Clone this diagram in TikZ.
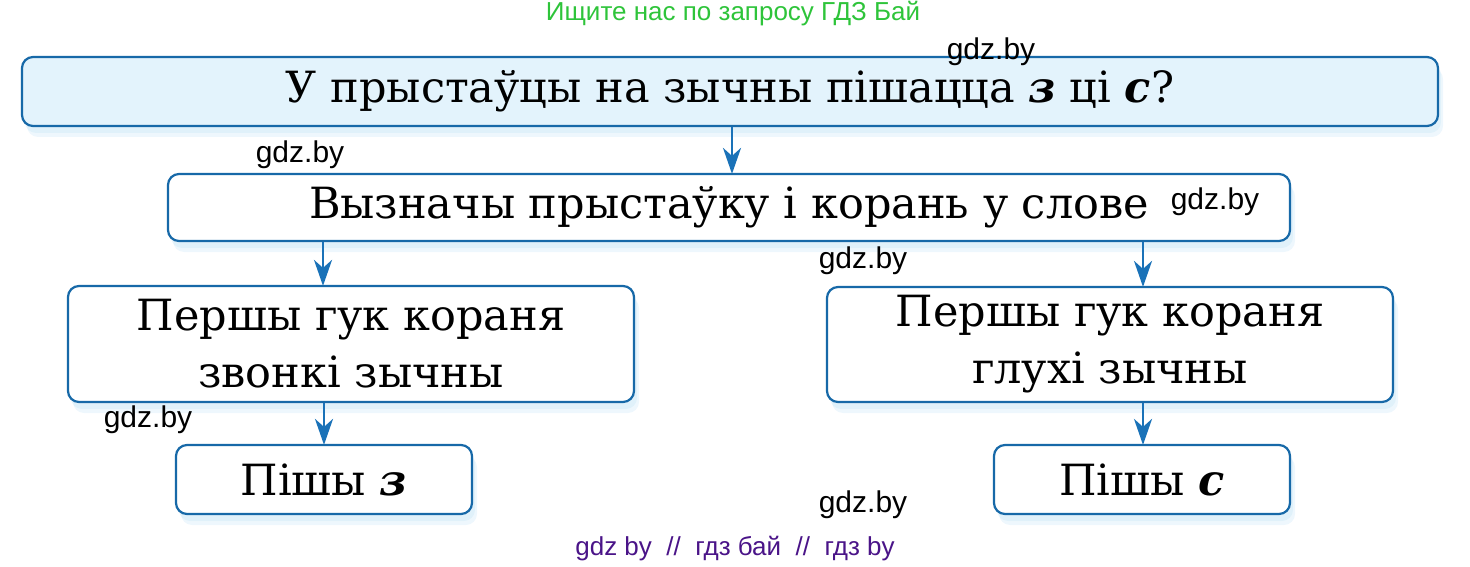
\documentclass[tikz,border=0pt]{standalone}
\usepackage{fontspec}
\setmainfont{DejaVu Serif}
\newfontfamily\wmfont{Liberation Sans}
\usetikzlibrary{arrows.meta}
\definecolor{bordc}{HTML}{1769A8}
\definecolor{arrc}{HTML}{1A72B8}
\definecolor{topfill}{HTML}{E3F3FC}
\definecolor{shadc}{HTML}{CFE9F8}
\definecolor{wmgreen}{HTML}{2EC43A}
\definecolor{wmpurple}{HTML}{4A1488}
\tikzset{
  box/.style={draw=bordc, line width=2.2pt, rounded corners=11pt, fill=white,
    inner sep=0pt, align=center,
    preaction={fill=shadc, opacity=0.45, transform canvas={xshift=3pt,yshift=-7pt}},
    preaction={fill=shadc, opacity=0.35, transform canvas={xshift=5pt,yshift=-11pt}},
    font=\fontsize{43}{57}\selectfont},
  arr/.style={draw=arrc, line width=2.6pt, -{Stealth[length=26pt,width=18pt,inset=8pt]}},
  wm/.style={font=\wmfont\fontsize{30}{34}\selectfont, text=black, inner sep=0pt},
}
\begin{document}
\begin{tikzpicture}[x=1pt,y=-1pt]
\useasboundingbox (0,0) rectangle (1470,567);
\node[box, fill=topfill, minimum width=1416pt, minimum height=69pt] (top) at (730,91.5)
  {У прыстаўцы на зычны пішацца \textbf{\textit{з}} ці \textbf{\textit{с}}?};
\node[box, minimum width=1122pt, minimum height=67pt] (b2) at (729,207.5)
  {Вызначы прыстаўку і корань у слове};
\node[box, minimum width=566pt, minimum height=116pt] (b3) at (351,344)
  {Першы гук кораня\\звонкі зычны};
\node[box, minimum width=566pt, minimum height=115pt] (b4) at (1110,344.5)
  {Першы гук кораня\\глухі зычны};
\node[box, minimum width=296pt, minimum height=69pt] (b5) at (324,479.5)
  {Пішы \textbf{\textit{з}}};
\node[box, minimum width=296pt, minimum height=69pt] (b6) at (1142,479.5)
  {Пішы \textbf{\textit{с}}};
\coordinate (c1) at (732,0);
\coordinate (c2) at (323,0);
\coordinate (c3) at (1143,0);
\coordinate (c4) at (324,0);
\draw[arr] (top.south -| c1) -- ([yshift=-1pt]b2.north -| c1);
\draw[arr] (b2.south -| c2) -- ([yshift=-1pt]b3.north -| c2);
\draw[arr] (b2.south -| c3) -- ([yshift=-1pt]b4.north -| c3);
\draw[arr] (b3.south -| c4) -- ([yshift=-1pt]b5.north -| c4);
\draw[arr] (b4.south -| c3) -- ([yshift=-1pt]b6.north -| c3);
\node[font=\wmfont\fontsize{26}{30}\selectfont, text=wmgreen, inner sep=0pt] (wtop) at (733,14) {Ищите нас по запросу ГДЗ Бай};
\node[font=\wmfont\fontsize{26}{30}\selectfont, text=wmpurple, inner sep=0pt] (wbot) at (735,549) {gdz by \ // \ гдз бай \ // \ гдз by};
\node[wm] (w1) at (991,52) {gdz.by};
\node[wm] (w2) at (300,155) {gdz.by};
\node[wm] (w3) at (1215,202) {gdz.by};
\node[wm] (w4) at (863,261) {gdz.by};
\node[wm] (w5) at (148,420) {gdz.by};
\node[wm] (w6) at (863,505) {gdz.by};
\end{tikzpicture}
\end{document}
